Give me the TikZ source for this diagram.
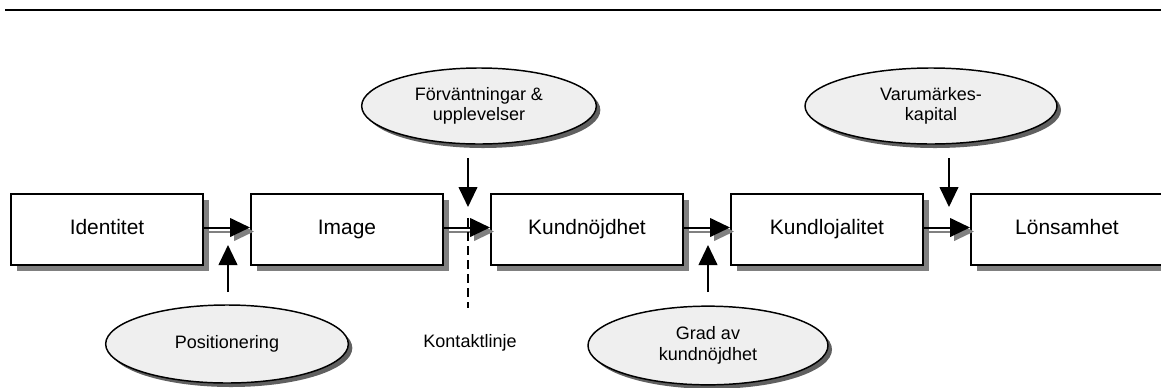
\documentclass[tikz,border=0pt]{standalone}
\usepackage{fontspec}
\setmainfont{Liberation Sans}
\usetikzlibrary{arrows.meta,shapes.geometric,shadows}
\definecolor{shade}{HTML}{808080}
\definecolor{ovalfill}{HTML}{EFEFEF}
\begin{document}
\begin{tikzpicture}[x=0.75pt,y=-0.75pt,
  stage/.style={draw, line width=1.5pt, fill=white, inner sep=0pt,
    minimum width=144pt, minimum height=53.25pt,
    text height=11.4pt, text depth=3.3pt,
    font=\fontsize{15.7}{18}\selectfont,
    drop shadow={shadow xshift=4.5pt, shadow yshift=-4.5pt, fill=shade, opacity=1}},
  oval/.style={ellipse, draw, line width=1.1pt, fill=ovalfill, inner sep=0pt,
    align=center, font=\fontsize{13.5}{15.5}\selectfont,
    drop shadow={shadow xshift=3pt, shadow yshift=-3pt, fill=shade!75!black, opacity=1}},
  link/.style={line width=1.5pt, -{Triangle[length=15pt,width=14pt]}},
  linkshade/.style={link, draw=shade, transform canvas={shift={(3pt,-3pt)}}},
  boundary/.style={line width=1.2pt, dash pattern=on 7pt off 3.5pt},
  caption/.style={font=\fontsize{13.5}{15.5}\selectfont}
]
\useasboundingbox (0,0) rectangle (1161,387);
\clip (0,0) rectangle (1161,387);

% rule across the top
\draw[line width=1.5pt] (5,10) -- (1161,10);

% chain of stages
\node[stage] (id)  at (107,229.5)  {Identitet};
\node[stage] (img) at (347,229.5)  {Image};
\node[stage] (kn)  at (587,229.5)  {Kundnöjdhet};
\node[stage] (kl)  at (827,229.5)  {Kundlojalitet};
\node[stage] (ls)  at (1067,229.5) {Lönsamhet};

% influencing factors
\node[oval, minimum width=182pt, minimum height=58.5pt] (pos) at (227,344) {Positionering};
\node[oval, minimum width=176pt, minimum height=57pt]   (fv)  at (479,106) {Förväntningar \&\\upplevelser};
\node[oval, minimum width=180pt, minimum height=59pt]   (gr)  at (708,345.5) {Grad av\\kundnöjdhet};
\node[oval, minimum width=189pt, minimum height=57pt]   (vk)  at (931,106) {Varumärkes-\\kapital};

% arrows between stages (grey offset copy beneath)
\foreach \a/\b in {id/img, img/kn, kn/kl, kl/ls}{
  \draw[linkshade] ([yshift=1.5pt]\a.east) -- ([yshift=1.5pt]\b.west);
  \draw[link]      ([yshift=1.5pt]\a.east) -- ([yshift=1.5pt]\b.west);
}

% arrows from the factors
\coordinate (pa) at (228,292); \coordinate (pb) at (228,245);
\coordinate (fa) at (468,158); \coordinate (fb) at (468,207);
\coordinate (ga) at (708,292); \coordinate (gb) at (708,245);
\coordinate (va) at (949,158); \coordinate (vb) at (949,207);
\draw[link] (pa) -- (pb);
\draw[link] (fa) -- (fb);
\draw[link] (ga) -- (gb);
\draw[link] (va) -- (vb);

% contact line
\coordinate (ka) at (468,218); \coordinate (kb) at (468,308);
\draw[boundary] (ka) -- (kb);
\node[caption] (kt) at (470,343) {Kontaktlinje};
\end{tikzpicture}
\end{document}
